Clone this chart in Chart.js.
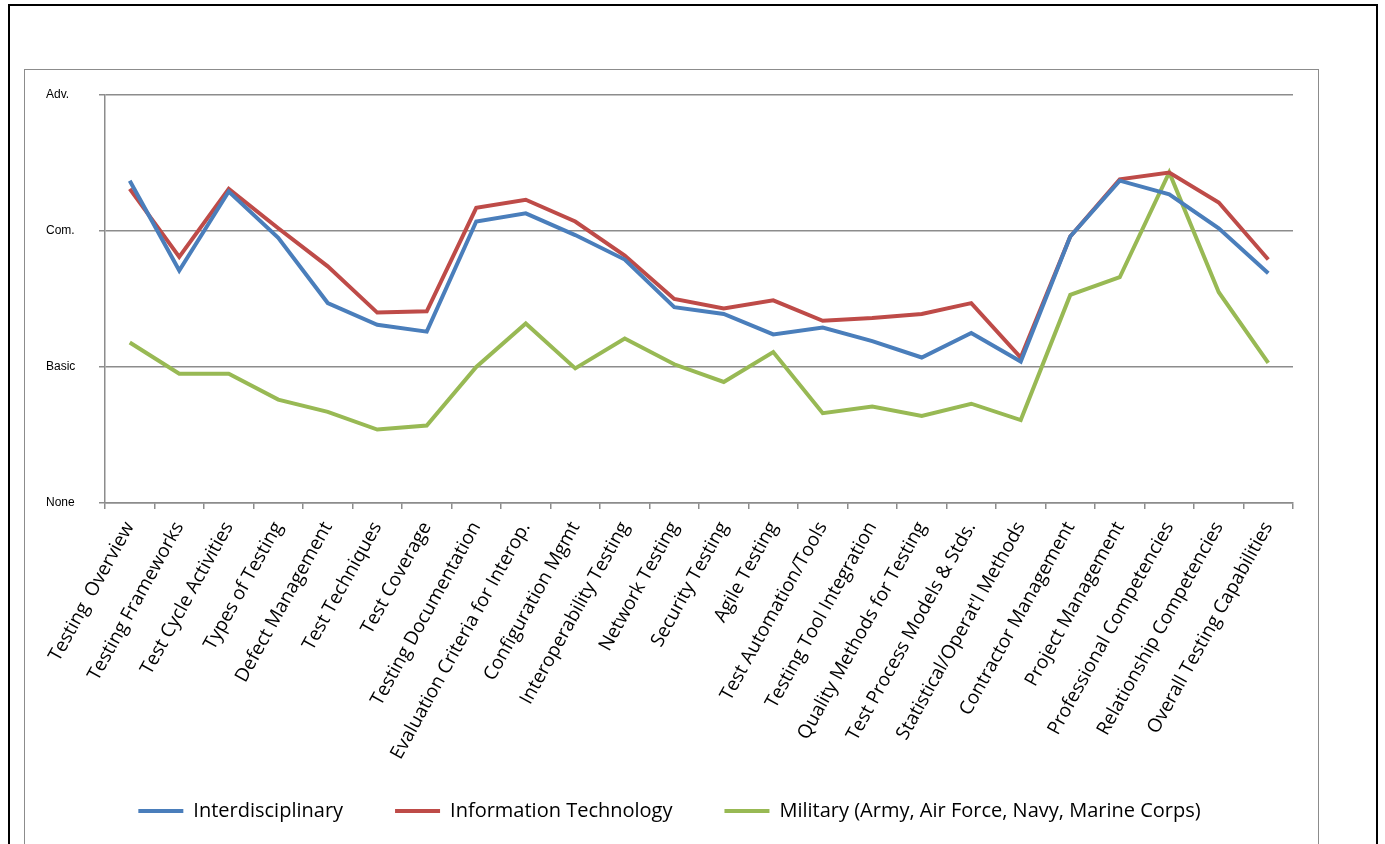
<!DOCTYPE html>
<html>
<head>
<meta charset="utf-8">
<script src="https://cdn.jsdelivr.net/npm/chart.js"></script>
<style>
  body { margin: 0; overflow: hidden; background: #fff; }
  .outer { position: absolute; left: 8px; top: 4px; width: 1366px; height: 900px; border: 2px solid #000; }
  .inner { position: absolute; left: 24px; top: 69px; width: 1293px; height: 900px; border: 1px solid #8c8c8c; }
  #wrap { position: absolute; left: 25px; top: 70px; width: 1293px; height: 830px; }
</style>
</head>
<body>
<div class="outer"></div>
<div class="inner"></div>
<div id="wrap"><canvas id="myChart"></canvas></div>
<script>
const categories = ['Testing  Overview', 'Testing Frameworks', 'Test Cycle Activities', 'Types of Testing',
  'Defect Management', 'Test Techniques', 'Test Coverage', 'Testing Documentation',
  'Evaluation Criteria for Interop.', 'Configuration Mgmt', 'Interoperability Testing', 'Network Testing',
  'Security Testing', 'Agile Testing', 'Test Automation/Tools', 'Testing Tool Integration',
  'Quality Methods for Testing', 'Test Process Models & Stds.', "Statistical/Operat'l Methods",
  'Contractor Management', 'Project Management', 'Professional Competencies', 'Relationship Competencies',
  'Overall Testing Capabilities'];

const interdisciplinary = [2.37, 1.71, 2.29, 1.95, 1.47, 1.31, 1.26, 2.07, 2.13, 1.97, 1.79, 1.44,
  1.39, 1.24, 1.29, 1.19, 1.07, 1.25, 1.04, 1.96, 2.37, 2.27, 2.02, 1.69];
const infoTech = [2.31, 1.81, 2.31, 2.02, 1.74, 1.40, 1.41, 2.17, 2.23, 2.07, 1.82, 1.50,
  1.43, 1.49, 1.34, 1.36, 1.39, 1.47, 1.07, 1.96, 2.38, 2.43, 2.21, 1.79];
const military = [1.18, 0.95, 0.95, 0.76, 0.67, 0.54, 0.57, 1.00, 1.32, 0.99, 1.21, 1.02,
  0.89, 1.11, 0.66, 0.71, 0.64, 0.73, 0.61, 1.53, 1.66, 2.43, 1.55, 1.03];

const levelLabels = ['None', 'Basic', 'Com.', 'Adv.'];

const gridColor = '#8c8c8c';

new Chart(document.getElementById('myChart'), {
  type: 'line',
  data: {
    labels: categories,
    datasets: [
      { label: 'Interdisciplinary', data: interdisciplinary, borderColor: '#4A7EBB', backgroundColor: '#4A7EBB' },
      { label: 'Information Technology', data: infoTech, borderColor: '#BE4B48', backgroundColor: '#BE4B48' },
      { label: 'Military (Army, Air Force, Navy, Marine Corps)', data: military, borderColor: '#98B954', backgroundColor: '#98B954' }
    ]
  },
  options: {
    responsive: true,
    maintainAspectRatio: false,
    animation: false,
    datasets: {
      line: { borderWidth: 4, pointRadius: 0, tension: 0, pointStyle: 'line' }
    },
    layout: { padding: { top: 25, right: 25, left: 21, bottom: 69 } },
    scales: {
      x: {
        offset: true,
        grid: { offset: true, drawOnChartArea: false, tickLength: 6, color: gridColor, lineWidth: 1.5 },
        border: { color: gridColor, width: 1.5 },
        ticks: {
          autoSkip: false, minRotation: 61, maxRotation: 61, padding: 9, color: '#000',
          font: { family: 'Open Sans', size: 19 }
        },
        afterFit: function (scale) { scale.height = 272; }
      },
      y: {
        min: 0, max: 3,
        grid: { color: gridColor, lineWidth: 1.5, tickLength: 6 },
        border: { color: gridColor, width: 1.5 },
        ticks: {
          stepSize: 1, crossAlign: 'far', color: '#000',
          font: { family: 'Liberation Sans', size: 12 },
          callback: function (v) { return levelLabels[v]; }
        },
        afterFit: function (scale) { scale.width = 59; }
      }
    },
    plugins: {
      tooltip: { enabled: false },
      legend: {
        position: 'bottom',
        labels: {
          usePointStyle: true, pointStyleWidth: 45, padding: 26, color: '#000',
          font: { family: 'Open Sans', size: 20 },
          // extra gap between entries without growing the legend's height
          generateLabels: function (chart) {
            const items = Chart.defaults.plugins.legend.labels.generateLabels(chart);
            items.forEach(function (it, i) {
              if (i < items.length - 1) it.text += '     ';
            });
            return items;
          }
        }
      }
    }
  }
});
</script>
</body>
</html>
